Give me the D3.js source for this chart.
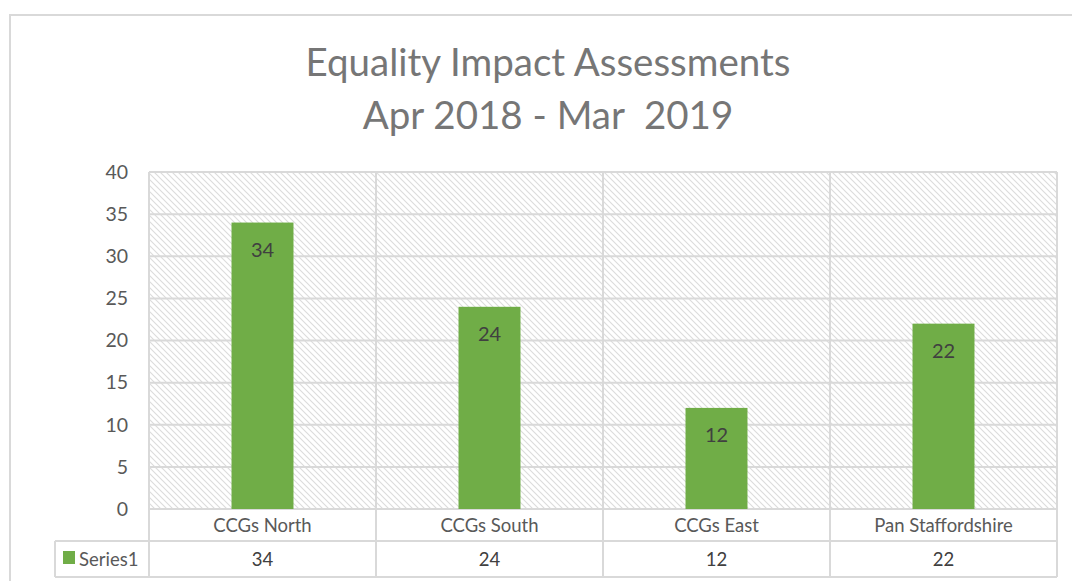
<!DOCTYPE html>
<html>
<head>
<meta charset="utf-8">
<script src="https://cdn.jsdelivr.net/npm/d3@7"></script>
<style>
  body { margin: 0; background: #fff; }
  svg text { font-family: Lato, "Open Sans", sans-serif; }
</style>
</head>
<body>
<svg id="chart" width="1072" height="581"></svg>
<script>
// chart data
var categories = ["CCGs North", "CCGs South", "CCGs East", "Pan Staffordshire"];
var values = [34, 24, 12, 22];
var seriesName = "Series1";
var yTicks = [0, 5, 10, 15, 20, 25, 30, 35, 40];
var titleLines = ["Equality Impact Assessments", "Apr 2018 - Mar  2019"];

var svg = d3.select("#chart");
var gridColor = "#d9d9d9";
var textColor = "#595959";
var green = "#70ad47";

var plotLeft = 149, plotRight = 1057, plotTop = 172, plotBottom = 509;
var row1 = 541, row2 = 577, tableLeft = 55;

// hatch pattern for the plot area
var defs = svg.append("defs");
var pat = defs.append("pattern")
  .attr("id", "hatch")
  .attr("patternUnits", "userSpaceOnUse")
  .attr("width", 6)
  .attr("height", 6);
pat.append("rect").attr("width", 6).attr("height", 6).attr("fill", "#fff");
pat.append("path")
  .attr("d", "M-1,-1 L7,7 M-4,2 L2,8 M4,-2 L8,2")
  .attr("stroke", "#dcdcdc")
  .attr("stroke-width", 1.1);

// outer chart border
svg.append("rect")
  .attr("x", 10).attr("y", 15)
  .attr("width", 1100).attr("height", 600)
  .attr("fill", "none")
  .attr("stroke", gridColor)
  .attr("stroke-width", 2);

var x = d3.scaleBand().domain(categories).range([plotLeft, plotRight]).paddingInner(0).paddingOuter(0);
var y = d3.scaleLinear().domain([0, 40]).range([plotBottom, plotTop]);

svg.append("rect")
  .attr("x", plotLeft).attr("y", plotTop)
  .attr("width", plotRight - plotLeft).attr("height", plotBottom - plotTop)
  .attr("fill", "url(#hatch)");

// horizontal grid
svg.selectAll(".grid")
  .data(yTicks)
  .enter().append("line")
    .attr("x1", plotLeft).attr("x2", plotRight)
    .attr("y1", function(d){ return y(d); })
    .attr("y2", function(d){ return y(d); })
    .attr("stroke", gridColor)
    .attr("stroke-width", 2);

// y axis labels
var yAxis = d3.axisLeft(y).tickValues(yTicks).tickSize(0).tickPadding(0);
var ya = svg.append("g").attr("transform", "translate(128,0)").call(yAxis);
ya.select(".domain").remove();
ya.selectAll("text")
  .attr("fill", textColor)
  .attr("font-size", 19.5)
  .style("font-family", "Lato, sans-serif");

// bars
var barW = x.bandwidth() * 0.273;
svg.selectAll(".bar")
  .data(values)
  .enter().append("rect")
    .attr("x", function(d, i){ return x(categories[i]) + x.bandwidth()/2 - barW/2; })
    .attr("y", function(d){ return y(d); })
    .attr("width", barW)
    .attr("height", function(d){ return plotBottom - y(d); })
    .attr("fill", green);

// data labels
svg.selectAll(".lbl")
  .data(values)
  .enter().append("text")
    .attr("x", function(d, i){ return x(categories[i]) + x.bandwidth()/2; })
    .attr("y", function(d){ return y(d) + 34; })
    .attr("text-anchor", "middle")
    .attr("font-size", 20)
    .attr("fill", "#404040")
    .text(function(d){ return d; });

// data table
var vlines = categories.map(function(c){ return x(c); }).concat([plotRight]);
svg.selectAll(".vl")
  .data(vlines)
  .enter().append("line")
    .attr("x1", function(d){ return d; }).attr("x2", function(d){ return d; })
    .attr("y1", plotTop).attr("y2", row2)
    .attr("stroke", gridColor)
    .attr("stroke-width", 2);

svg.append("line").attr("x1", tableLeft).attr("x2", plotRight)
  .attr("y1", row1).attr("y2", row1)
  .attr("stroke", gridColor).attr("stroke-width", 2);
svg.append("line").attr("x1", tableLeft).attr("x2", plotRight)
  .attr("y1", row2).attr("y2", row2)
  .attr("stroke", gridColor).attr("stroke-width", 2);
svg.append("line").attr("x1", tableLeft).attr("x2", tableLeft)
  .attr("y1", row1).attr("y2", row2)
  .attr("stroke", gridColor).attr("stroke-width", 2);

svg.selectAll(".cat")
  .data(categories)
  .enter().append("text")
    .attr("x", function(d){ return x(d) + x.bandwidth()/2; })
    .attr("y", 532)
    .attr("text-anchor", "middle")
    .attr("font-size", 18.5)
    .attr("fill", textColor)
    .text(function(d){ return d; });

svg.selectAll(".val")
  .data(values)
  .enter().append("text")
    .attr("x", function(d, i){ return x(categories[i]) + x.bandwidth()/2; })
    .attr("y", 566)
    .attr("text-anchor", "middle")
    .attr("font-size", 18.5)
    .attr("fill", "#404040")
    .text(function(d){ return d; });

// legend key in the table
svg.append("rect").attr("x", 63).attr("y", 551).attr("width", 12).attr("height", 13).attr("fill", green);
svg.append("text").attr("x", 79).attr("y", 566)
  .attr("font-size", 18.5).attr("fill", textColor)
  .text(seriesName);

// title
svg.selectAll(".title")
  .data(titleLines)
  .enter().append("text")
    .attr("x", 548)
    .attr("y", function(d, i){ return 76 + i*53; })
    .attr("text-anchor", "middle")
    .attr("font-size", 38.5)
    .attr("fill", "#767676")
    .style("white-space", "pre")
    .text(function(d){ return d; });
</script>
</body>
</html>
